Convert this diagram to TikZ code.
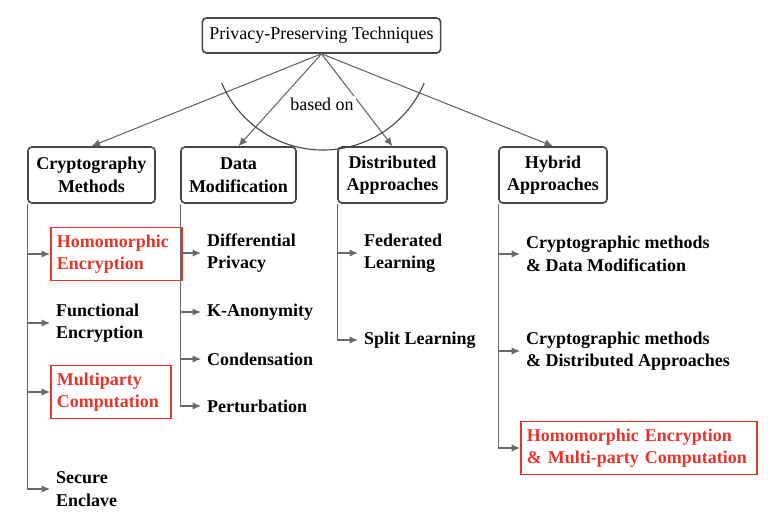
\documentclass[tikz,border=0pt]{standalone}
\usepackage{fontspec}
\setmainfont{Liberation Serif}
\usetikzlibrary{arrows.meta}
\definecolor{hired}{RGB}{232,52,40}
\definecolor{boxgray}{RGB}{70,70,70}
\definecolor{linegray}{RGB}{105,105,105}
\tikzset{
  basefont/.style={font=\fontsize{18}{22.5}\selectfont},
  catbox/.style={draw=boxgray, line width=1.6pt, rounded corners=4pt, align=center, font=\fontsize{18}{22.5}\selectfont\bfseries, minimum height=56pt, inner sep=2pt},
  leaf/.style={anchor=west, align=left, font=\fontsize{18}{22.5}\selectfont\bfseries, inner xsep=6pt, inner ysep=7pt},
  redleaf/.style={leaf, draw=hired, text=hired, line width=1.8pt},
  conn/.style={draw=linegray, line width=1.1pt, -{Latex[length=8.5pt,width=7.5pt]}},
  plainline/.style={draw=boxgray, line width=1.1pt},
}
\begin{document}
\begin{tikzpicture}[x=1pt,y=-1pt]
\useasboundingbox (0,0) rectangle (768,518);
% root
\node[basefont, draw=boxgray, line width=1.6pt, rounded corners=4pt, minimum height=35pt, inner xsep=7pt] (root) at (321.5,35.5) {Privacy-Preserving Techniques};
% categories
\node[catbox, minimum width=127pt] (crypt) at (91.5,175) {Cryptography\\Methods};
\node[catbox, minimum width=115pt] (data) at (238.5,175) {Data\\Modification};
\node[catbox, minimum width=109pt] (dist) at (392.5,175) {Distributed\\Approaches};
\node[catbox, minimum width=108pt] (hyb) at (553,175) {Hybrid\\Approaches};
% leaves
\node[redleaf, text width=119pt] (he) at (50,254) {Homomorphic\\Encryption};
\node[leaf] (fe) at (50,323) {Functional\\Encryption};
\node[redleaf, text width=108pt] (mpc) at (50,392) {Multiparty\\Computation};
\node[leaf] (se) at (50,489) {Secure\\Enclave};
\node[leaf] (dp) at (201,253) {Differential\\Privacy};
\node[leaf] (ka) at (201,312) {K-Anonymity};
\node[leaf] (cond) at (201,359) {Condensation};
\node[leaf] (pert) at (201,406) {Perturbation};
\node[leaf] (fl) at (358,253) {Federated\\Learning};
\node[leaf] (sl) at (358,340) {Split Learning};
\node[leaf] (h1) at (520,254) {Cryptographic methods\\\& Data Modification};
\node[leaf] (h2) at (520,351) {Cryptographic methods\\\& Distributed Approaches};
\node[redleaf, text width=224pt] (h3) at (520,448) {Homomorphic Encryption\\\& Multi-party Computation};
% top connectors
\draw[conn] (root.south) -- (crypt.north);
\draw[conn] (root.south) -- (data.north);
\draw[conn] (root.south) -- (dist.north);
\draw[conn] (root.south) -- (hyb.north);
% arc
\draw[plainline] (221.7,83) arc[start angle=-157, end angle=-23, radius=110pt];
\node[basefont, fill=white, inner sep=2pt] (based) at (322,104) {based on};
% tree connectors
\foreach \c in {he,fe,mpc,se} \draw[conn] (crypt.south west) |- (\c.west);
\foreach \c in {dp,ka,cond,pert} \draw[conn] (data.south west) |- (\c.west);
\foreach \c in {fl,sl} \draw[conn] (dist.south west) |- (\c.west);
\foreach \c in {h1,h2,h3} \draw[conn] (hyb.south west) |- (\c.west);
\end{tikzpicture}
\end{document}
